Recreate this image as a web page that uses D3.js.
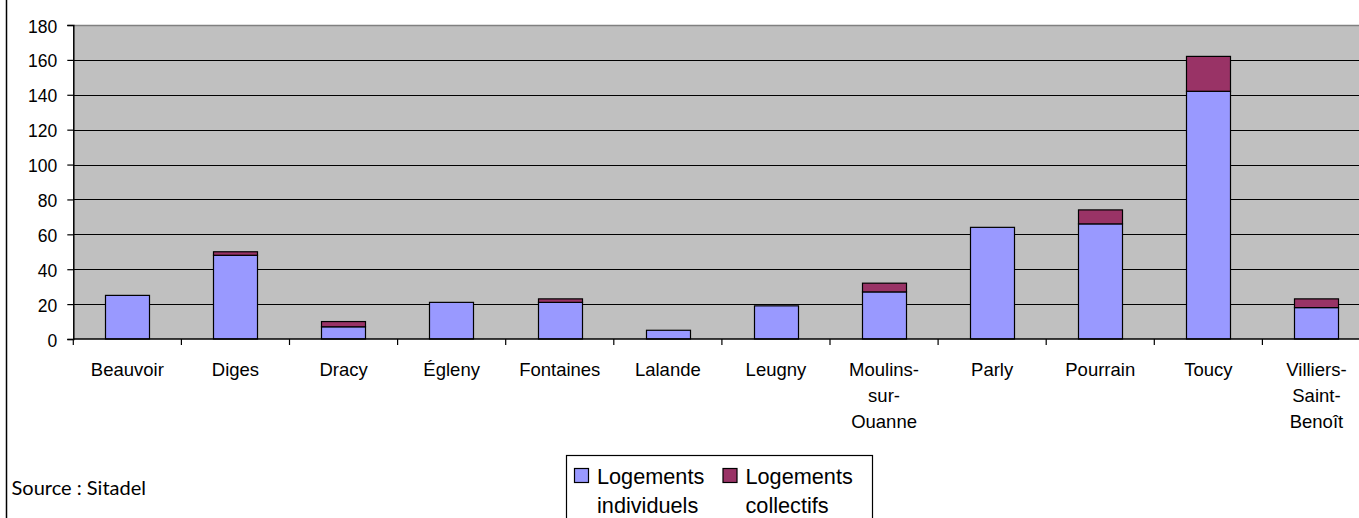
<!DOCTYPE html>
<html>
<head>
<meta charset="utf-8">
<script src="https://cdn.jsdelivr.net/npm/d3@7/dist/d3.min.js"></script>
<style>
html, body { margin: 0; padding: 0; background: #fff; }
svg { display: block; }
</style>
</head>
<body>
<svg id="chart" width="1359" height="518"></svg>
<script>
const categories = ["Beauvoir", "Diges", "Dracy", "Égleny", "Fontaines", "Lalande", "Leugny",
  "Moulins-sur-Ouanne", "Parly", "Pourrain", "Toucy", "Villiers-Saint-Benoît"];
const individuels = [25, 48, 7, 21, 21, 5, 19, 27, 64, 66, 142, 18];
const collectifs  = [0, 2, 3, 0, 2, 0, 0, 5, 0, 8, 20, 5];
const seriesNames = ["Logements individuels", "Logements collectifs"];
const seriesColors = ["#9999FF", "#993366"];
const yTicks = [0, 20, 40, 60, 80, 100, 120, 140, 160, 180];
const sourceText = "Source : Sitadel";

(function () {
const svg = d3.select("#chart");
const pLeft = 73.3, pRight = 1370.5, pTop = 25, pBottom = 339;

const x = d3.scaleBand().domain(categories).range([pLeft, pRight])
  .paddingInner(0.59).paddingOuter(0.295);
const y = d3.scaleLinear().domain([0, 180]).range([pBottom, pTop]);

// chart area left border
svg.append("line").attr("x1", 6.5).attr("x2", 6.5).attr("y1", 0).attr("y2", 518)
  .attr("stroke", "#000").attr("stroke-width", 1.5);

// plot background
svg.append("rect").attr("x", pLeft).attr("y", pTop)
  .attr("width", pRight - pLeft).attr("height", pBottom - pTop).attr("fill", "#C0C0C0");

// gridlines
svg.append("g").selectAll("line").data(yTicks.filter(d => d > 0))
  .join("line")
  .attr("x1", pLeft).attr("x2", pRight)
  .attr("y1", d => Math.round(y(d)) + 0.5).attr("y2", d => Math.round(y(d)) + 0.5)
  .attr("stroke", d => d === 180 ? "#808080" : "#000")
  .attr("stroke-width", d => d === 180 ? 1.5 : 1);

// stacked data
const data = categories.map((c, i) => ({ cat: c, ind: individuels[i], col: collectifs[i] }));
const stack = d3.stack().keys(["ind", "col"])(data);

const bw = x.bandwidth();
svg.append("g").selectAll("g").data(stack).join("g")
  .attr("fill", (d, i) => seriesColors[i])
  .selectAll("rect").data(d => d.filter(s => s[1] - s[0] > 0))
  .join("rect")
  .attr("x", d => Math.round(x(d.data.cat)) + 0.5)
  .attr("y", d => y(d[1]))
  .attr("width", Math.round(bw))
  .attr("height", d => y(d[0]) - y(d[1]))
  .attr("stroke", "#000").attr("stroke-width", 1.2);

// Y axis
const yAxis = d3.axisLeft(y).tickValues(yTicks).tickSize(6).tickPadding(10).tickFormat(d3.format("d"));
const gy = svg.append("g").attr("transform", `translate(${pLeft},0)`).call(yAxis);
gy.select(".domain").attr("stroke", "#000").attr("stroke-width", 1.5);
gy.selectAll(".tick line").attr("stroke", "#000").attr("stroke-width", 1.2);
gy.selectAll(".tick text").attr("font-family", "'Liberation Sans', Arial, sans-serif")
  .attr("font-size", "17.5px").attr("fill", "#000").attr("dy", "0.4em");

// X axis line and boundary ticks
svg.append("line").attr("x1", pLeft).attr("x2", pRight).attr("y1", pBottom).attr("y2", pBottom)
  .attr("stroke", "#000").attr("stroke-width", 1.5);
const step = x.step();
const boundaries = d3.range(categories.length + 1).map(i => pLeft + i * step);
svg.append("g").selectAll("line").data(boundaries).join("line")
  .attr("x1", d => d).attr("x2", d => d).attr("y1", pBottom).attr("y2", pBottom + 6)
  .attr("stroke", "#000").attr("stroke-width", 1.2);

// category labels (wrap after hyphens)
const labG = svg.append("g").attr("font-family", "'Liberation Sans', Arial, sans-serif")
  .attr("font-size", "18.5px").attr("fill", "#000").attr("text-anchor", "middle");
categories.forEach(c => {
  const lines = c.includes("-") ? c.split(/(?<=-)/) : [c];
  const t = labG.append("text").attr("x", x(c) + bw / 2).attr("y", 376);
  lines.forEach((ln, j) => {
    t.append("tspan").attr("x", x(c) + bw / 2).attr("dy", j === 0 ? 0 : 26).text(ln);
  });
});

// source
svg.append("text").attr("x", 11.5).attr("y", 495)
  .attr("font-family", "Lato, 'Open Sans', sans-serif").attr("font-size", "20px")
  .attr("fill", "#000").text(sourceText);

// legend
const lg = svg.append("g");
lg.append("rect").attr("x", 566.5).attr("y", 455.5).attr("width", 306).attr("height", 80)
  .attr("fill", "#fff").attr("stroke", "#000").attr("stroke-width", 1.2);
const legX = [574, 722.5];
seriesNames.forEach((name, i) => {
  lg.append("rect").attr("x", legX[i] + 0.5).attr("y", 468.5).attr("width", 14).attr("height", 14)
    .attr("fill", seriesColors[i]).attr("stroke", "#000").attr("stroke-width", 1.2);
  const words = name.split(" ");
  const t = lg.append("text").attr("font-family", "'Liberation Sans', Arial, sans-serif")
    .attr("font-size", "21.7px").attr("fill", "#000");
  words.forEach((w, j) => {
    t.append("tspan").attr("x", legX[i] + 23).attr("y", 484 + j * 28.5).text(w);
  });
});
})();
</script>
</body>
</html>
